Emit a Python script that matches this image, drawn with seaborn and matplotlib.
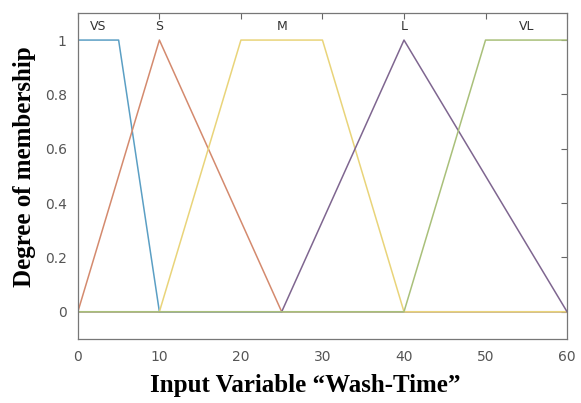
import pandas as pd
import seaborn as sns
import matplotlib.pyplot as plt

# membership function breakpoints (Wash-Time)
mf_names = ['VS', 'S', 'M', 'L', 'VL']
vs_x = [0, 5, 10, 60]
vs_y = [1, 1, 0, 0]
s_x = [0, 10, 25, 60]
s_y = [0, 1, 0, 0]
m_x = [0, 10, 20, 30, 40, 60]
m_y = [0, 0, 1, 1, 0, 0]
l_x = [0, 25, 40, 60]
l_y = [0, 0, 1, 0]
vl_x = [0, 40, 50, 60]
vl_y = [0, 0, 1, 1]
label_pos = [2.5, 10, 25, 40, 55]

rows = []
for name, xs, ys in zip(mf_names, [vs_x, s_x, m_x, l_x, vl_x], [vs_y, s_y, m_y, l_y, vl_y]):
    for i in range(len(xs)):
        rows.append({'MF': name, 'x': xs[i], 'y': ys[i], 'order': i})
df = pd.DataFrame(rows)

colors = ['#5b9fc4', '#d48a6e', '#e9d47a', '#7f6690', '#a9c07a']

sns.set_style('white')
fig = plt.figure(figsize=(5.81, 4.03), dpi=100)
ax = fig.add_axes([0.134, 0.159, 0.842, 0.809])
sns.lineplot(data=df, x='x', y='y', hue='MF', palette=colors, sort=False,
             estimator=None, units='MF', linewidth=1.1, legend=False, ax=ax)

for name, pos in zip(mf_names, label_pos):
    ax.text(pos, 1.05, name, ha='center', va='center', fontsize=9, color='#333333')

ax.set_xlim(0, 60)
ax.set_ylim(-0.1, 1.1)
ax.set_xticks([0, 10, 20, 30, 40, 50, 60])
ax.set_yticks([0, 0.2, 0.4, 0.6, 0.8, 1])
ax.set_yticklabels(['0', '0.2', '0.4', '0.6', '0.8', '1'])
ax.tick_params(direction='in', top=True, right=True, length=4, width=0.8,
               colors='#666666', labelsize=10, labelcolor='#555555', pad=8)
for sp in ax.spines.values():
    sp.set_color('#777777')
    sp.set_linewidth(0.9)

ax.set_xlabel('Input Variable \u201cWash-Time\u201d', fontsize=18, fontweight='bold',
              family='Liberation Serif', color='black')
ax.set_ylabel('Degree of membership', fontsize=18, fontweight='bold',
              family='Liberation Serif', color='black')
ax.xaxis.set_label_coords(0.464, -0.107)
ax.yaxis.set_label_coords(-0.086, 0.528)

fig.savefig('out.png', dpi=100, facecolor='white')
